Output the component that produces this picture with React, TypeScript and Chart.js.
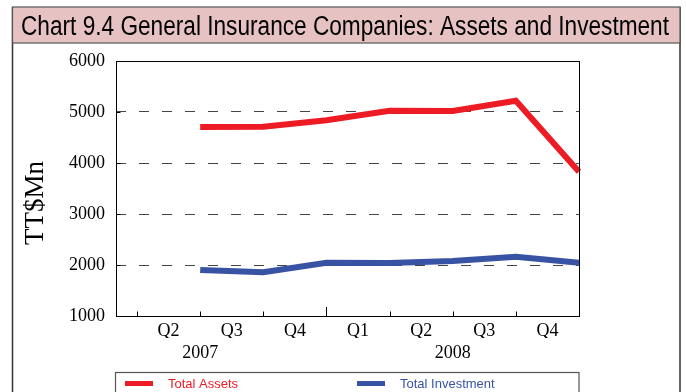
import React, { useEffect, useRef } from "react";
import { Chart, registerables } from "chart.js";

Chart.register(...registerables);

const quarterLabels = ["Q2", "Q3", "Q4", "Q1", "Q2", "Q3", "Q4"];
const yearLabels = ["2007", "2008"];
const yearLabelAt = [1, 5];
const totalAssets = [4705, 4712, 4840, 5025, 5020, 5220, 3830];
const totalInvestment = [1902, 1857, 2045, 2040, 2080, 2163, 2045];
const yTicks = [1000, 2000, 3000, 4000, 5000, 6000];
const seriesNames = ["Total Assets", "Total Investment"];
const seriesColors = ["#ed1c24", "#3953a4"];
const chartTitle = "Chart 9.4 General Insurance Companies: Assets and Investment";
const yTitle = "TT$Mn";

const SERIF = "'Liberation Serif', 'Times New Roman', serif";
const SANS = "'Liberation Sans', Arial, sans-serif";

const decorPlugin = {
  id: "decor",
  beforeDraw(chart: any) {
    const ctx = chart.ctx;
    ctx.save();
    ctx.fillStyle = "#ffffff";
    ctx.fillRect(0, 0, chart.width, chart.height);
    // outer frame
    ctx.strokeStyle = "#333";
    ctx.lineWidth = 1.5;
    ctx.beginPath();
    ctx.moveTo(12.5, 7);
    ctx.lineTo(12.5, chart.height + 2);
    ctx.moveTo(680, 7);
    ctx.lineTo(680, chart.height + 2);
    ctx.stroke();
    // title box
    ctx.fillStyle = "#e7c2c3";
    ctx.fillRect(12.5, 7, 667.5, 36);
    ctx.strokeStyle = "#555";
    ctx.lineWidth = 1.2;
    ctx.strokeRect(12.5, 7, 667.5, 36);
    ctx.fillStyle = "#000";
    ctx.font = "27px 'Liberation Sans Narrow', " + SANS;
    ctx.textBaseline = "alphabetic";
    ctx.textAlign = "left";
    const w = ctx.measureText(chartTitle).width;
    const target = 648;
    ctx.translate(21, 34.5);
    ctx.scale(target / w, 1);
    ctx.fillText(chartTitle, 0, 0);
    ctx.restore();
  },
  afterDraw(chart: any) {
    const ctx = chart.ctx;
    const a = chart.chartArea;
    const xs = chart.scales.x;
    const ys = chart.scales.y;
    ctx.save();
    // plot frame
    ctx.strokeStyle = "#000";
    ctx.lineWidth = 1;
    ctx.strokeRect(Math.round(a.left) + 0.5, Math.round(a.top) + 0.5, Math.round(a.right - a.left), Math.round(a.bottom - a.top));
    // x tick marks (inside)
    ctx.beginPath();
    for (let i = 0; i <= quarterLabels.length; i++) {
      const px = Math.round(xs.getPixelForValue(i)) + 0.5;
      const len = i === 3 ? 9 : 4.5;
      ctx.moveTo(px, a.bottom);
      ctx.lineTo(px, a.bottom - len);
    }
    // y tick marks (inside)
    yTicks.forEach((v) => {
      const py = Math.round(ys.getPixelForValue(v)) + 0.5;
      ctx.moveTo(a.left, py);
      ctx.lineTo(a.left + 4.5, py);
    });
    ctx.stroke();
    // y title
    ctx.fillStyle = "#000";
    ctx.font = "27px " + SERIF;
    ctx.textAlign = "center";
    ctx.textBaseline = "middle";
    ctx.translate(36, 203);
    ctx.rotate(-Math.PI / 2);
    ctx.fillText(yTitle, 0, 0);
    ctx.restore();

    // legend
    ctx.save();
    ctx.strokeStyle = "#555";
    ctx.lineWidth = 1.2;
    ctx.strokeRect(115.5, 372.5, 463.5, 40);
    const items = chart.data.datasets.map((d: any) => ({ label: d.label, color: d.borderColor }));
    const starts = [125, 357];
    ctx.font = "13px " + SANS;
    ctx.textBaseline = "middle";
    ctx.textAlign = "left";
    items.forEach((it: any, i: number) => {
      const x0 = starts[i];
      ctx.fillStyle = it.color;
      ctx.fillRect(x0, 381, 28, 5);
      ctx.fillText(it.label, x0 + 43, 384);
    });
    ctx.restore();
  },
};

export default function App() {
  const ref = useRef<HTMLCanvasElement | null>(null);
  useEffect(() => {
    if (!ref.current) return;
    const mk = (vals: number[]) => vals.map((v, i) => ({ x: i + 1, y: v }));
    const chart = new Chart(ref.current, {
      type: "line",
      data: {
        datasets: [
          {
            label: seriesNames[0],
            data: mk(totalAssets),
            borderColor: seriesColors[0],
            backgroundColor: seriesColors[0],
            borderWidth: 6,
            pointRadius: 0,
            tension: 0,
            clip: false as any,
          },
          {
            label: seriesNames[1],
            data: mk(totalInvestment),
            borderColor: seriesColors[1],
            backgroundColor: seriesColors[1],
            borderWidth: 6,
            pointRadius: 0,
            tension: 0,
            clip: false as any,
          },
        ],
      },
      options: {
        responsive: false,
        animation: false,
        devicePixelRatio: 1,
        layout: { padding: { left: 0, top: 61, right: 107, bottom: 28 } },
        plugins: { legend: { display: false }, tooltip: { enabled: false }, title: { display: false } },
        scales: {
          x: {
            type: "linear",
            position: "bottom",
            min: -1 / 3,
            max: quarterLabels.length,
            grid: { display: false, drawTicks: false },
            border: { display: false },
            afterBuildTicks: (s: any) => {
              s.ticks = quarterLabels.map((_, i) => ({ value: i + 0.5 }));
            },
            afterFit: (s: any) => {
              s.height = 22;
            },
            ticks: {
              autoSkip: false,
              maxRotation: 0,
              padding: 4,
              color: "#000",
              font: { family: SERIF, size: 18 },
              callback: (_v: any, i: number) => quarterLabels[i],
            },
          },
          xYear: {
            type: "linear",
            axis: "x",
            position: "bottom",
            min: -1 / 3,
            max: quarterLabels.length,
            grid: { display: false, drawTicks: false },
            border: { display: false },
            afterBuildTicks: (s: any) => {
              s.ticks = yearLabelAt.map((v) => ({ value: v }));
            },
            afterFit: (s: any) => {
              s.height = 26;
            },
            ticks: {
              autoSkip: false,
              maxRotation: 0,
              padding: 4,
              color: "#000",
              font: { family: SERIF, size: 18 },
              callback: (_v: any, i: number) => yearLabels[i],
            },
          },
          y: {
            type: "linear",
            min: yTicks[0],
            max: yTicks[yTicks.length - 1],
            afterBuildTicks: (s: any) => {
              s.ticks = yTicks.map((v) => ({ value: v }));
            },
            afterFit: (s: any) => {
              s.width = 116;
            },
            grid: { color: "#444", lineWidth: 1, drawTicks: false },
            border: { display: false, dash: [10, 13] },
            ticks: {
              padding: 11,
              color: "#000",
              font: { family: SERIF, size: 18 },
              callback: (v: any) => String(v),
            },
          },
        },
      } as any,
      plugins: [decorPlugin],
    });
    return () => chart.destroy();
  }, []);
  return (
    <div style={{ position: "absolute", left: 0, top: 0, width: 686, height: 392 }}>
      <canvas ref={ref} width={686} height={392} style={{ width: 686, height: 392, display: "block" }} />
    </div>
  );
}
